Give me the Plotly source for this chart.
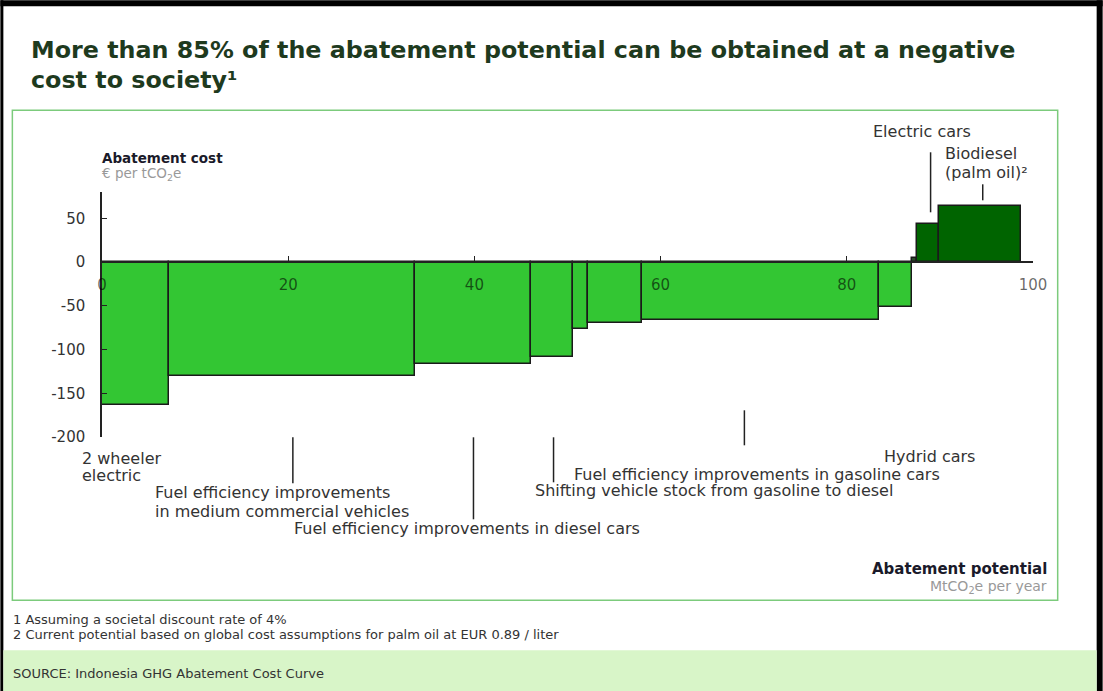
import plotly.graph_objects as go
import numpy as np

# ---- data ----
measures = ["2 wheeler electric", "Fuel efficiency medium commercial vehicles",
            "Fuel efficiency diesel cars", "Shifting gasoline to diesel",
            "Measure 5", "Measure 6", "Fuel efficiency gasoline cars",
            "Hybrid cars", "Measure 9", "Electric cars", "Biodiesel (palm oil)"]
potential = [7.15, 26.5, 12.4, 4.5, 1.7, 5.8, 25.4, 3.5, 0.6, 2.4, 8.75]
cost = [-163, -130, -116, -108, -76, -70, -66, -51, 5, 44, 64]
colors = ["#33c633"] * 8 + ["#2a4a2a", "#006400", "#006400"]

x_ticks = [0, 20, 40, 60, 80, 100]
y_ticks = [-200, -150, -100, -50, 0, 50]
y_tick_text = ["-200", "-150", "-100", "-50", "0", "50"]

W, H = 1103, 691
L, R, T, B = 101.7, 69.7, 191.7, 254.3
PW, PH = W - L - R, H - T - B


def px(x):
    return (x - L) / PW


def py(y):
    return (H - B - y) / PH


edges = np.concatenate([[0], np.cumsum(potential)])
mids = (edges[:-1] + edges[1:]) / 2

fig = go.Figure()
fig.add_trace(go.Bar(
    x=mids, y=cost, width=potential,
    marker=dict(color=colors, line=dict(color="#1a1a1a", width=1.5)),
    hoverinfo="skip", showlegend=False,
))

FONT = "DejaVu Sans, Verdana, sans-serif"

fig.update_layout(
    width=W, height=H,
    margin=dict(l=L, r=R, t=T, b=B, pad=0),
    paper_bgcolor="white", plot_bgcolor="rgba(0,0,0,0)",
    bargap=0,
    xaxis=dict(range=[0, 100], tickvals=x_ticks, ticks="inside", ticklen=5,
               tickcolor="#222", showline=True, linecolor="#222", linewidth=1.5,
               showgrid=False, zeroline=False, anchor="free",
               position=200 / 280,
               tickfont=dict(family=FONT, size=15, color="rgba(0,0,0,0.6)"),
               ticklabelstandoff=9, fixedrange=True),
    yaxis=dict(range=[-200, 80], tickvals=y_ticks, ticktext=y_tick_text,
               ticks="inside", ticklen=5,
               tickcolor="#222", showline=True, linecolor="#222", linewidth=1.5,
               showgrid=False, zeroline=False,
               tickfont=dict(family=FONT, size=15, color="#333"),
               ticklabelstandoff=12, fixedrange=True),
)

shapes = []
# black frame
shapes.append(dict(type="rect", xref="paper", yref="paper", x0=px(0), x1=px(W), y0=py(0), y1=py(6),
                   fillcolor="black", line=dict(width=0), layer="below"))
shapes.append(dict(type="rect", xref="paper", yref="paper", x0=px(0), x1=px(3), y0=py(0), y1=py(H),
                   fillcolor="black", line=dict(width=0), layer="below"))
shapes.append(dict(type="rect", xref="paper", yref="paper", x0=px(1097), x1=px(W), y0=py(0), y1=py(H),
                   fillcolor="black", line=dict(width=0), layer="below"))
# source band
shapes.append(dict(type="rect", xref="paper", yref="paper", x0=px(3), x1=px(1097), y0=py(650), y1=py(H),
                   fillcolor="#d8f5c8", line=dict(width=0), layer="below"))
# chart box
shapes.append(dict(type="rect", xref="paper", yref="paper", x0=px(12), x1=px(1058), y0=py(110), y1=py(600),
                   fillcolor="rgba(0,0,0,0)", line=dict(color="#7ccb7c", width=1.5), layer="below"))

# leader lines: (data x, pixel y top, pixel y bottom)
leaders = [(20.5, 437, 483), (39.9, 437, 519), (48.5, 437, 482), (69.0, 410, 445),
           (89.0, 152, 212), (94.6, 184, 200)]
for lx, y0, y1 in leaders:
    shapes.append(dict(type="line", xref="x", yref="paper", x0=lx, x1=lx, y0=py(y0), y1=py(y1),
                       line=dict(color="#222", width=1.5)))
fig.update_layout(shapes=shapes)

lab_font = dict(family=FONT, size=16, color="#333")
labels = [
    ("Electric cars", 871, 131),
    ("Biodiesel", 943, 153),
    ("(palm oil)²", 943, 172),
    ("2 wheeler", 80, 458),
    ("electric", 80, 475),
    ("Fuel efficiency improvements", 153, 492),
    ("in medium commercial vehicles", 153, 511),
    ("Fuel efficiency improvements in diesel cars", 292, 528),
    ("Shifting vehicle stock from gasoline to diesel", 533, 490),
    ("Fuel efficiency improvements in gasoline cars", 572, 474),
    ("Hydrid cars", 882, 456),
]
ann = []
for text, x, y in labels:
    ann.append(dict(text=text, xref="paper", yref="paper", x=px(x), y=py(y), xanchor="left",
                    yanchor="middle", align="left", showarrow=False, font=lab_font))

title_font = dict(family=FONT, size=23.8, color="#1e3a1e", weight="bold")
ann.append(dict(text="More than 85% of the abatement potential can be obtained at a negative",
                xref="paper", yref="paper", x=px(29), y=py(50), xanchor="left", yanchor="middle",
                showarrow=False, font=title_font))
ann.append(dict(text="cost to society¹",
                xref="paper", yref="paper", x=px(29), y=py(80), xanchor="left", yanchor="middle",
                showarrow=False, font=title_font))
ann.append(dict(text="<b>Abatement cost</b>", xref="paper", yref="paper", x=px(100), y=py(158),
                xanchor="left", yanchor="middle", showarrow=False,
                font=dict(family=FONT, size=13.5, color="#1a1a2a")))
ann.append(dict(text="€ per tCO<sub>2</sub>e", xref="paper", yref="paper", x=px(100), y=py(174),
                xanchor="left", yanchor="middle", showarrow=False,
                font=dict(family=FONT, size=13.5, color="#999")))
ann.append(dict(text="<b>Abatement potential</b>", xref="paper", yref="paper", x=px(1049), y=py(569),
                xanchor="right", yanchor="middle", showarrow=False,
                font=dict(family=FONT, size=15, color="#1a1a2a")))
ann.append(dict(text="MtCO<sub>2</sub>e per year", xref="paper", yref="paper", x=px(1049), y=py(587),
                xanchor="right", yanchor="middle", showarrow=False,
                font=dict(family=FONT, size=14, color="#999")))
foot_font = dict(family=FONT, size=13, color="#333")
ann.append(dict(text="1 Assuming a societal discount rate of 4%", xref="paper", yref="paper",
                x=px(11), y=py(619), xanchor="left", yanchor="middle", showarrow=False, font=foot_font))
ann.append(dict(text="2 Current potential based on global cost assumptions for palm oil at EUR 0.89 / liter",
                xref="paper", yref="paper", x=px(11), y=py(634), xanchor="left", yanchor="middle",
                showarrow=False, font=foot_font))
ann.append(dict(text="SOURCE: Indonesia GHG Abatement Cost Curve", xref="paper", yref="paper",
                x=px(11), y=py(673), xanchor="left", yanchor="middle", showarrow=False, font=foot_font))
fig.update_layout(annotations=ann)

fig.write_html("out.html", config={"displayModeBar": False},
               post_script="document.body.style.margin='0';document.body.style.overflow='hidden';")
